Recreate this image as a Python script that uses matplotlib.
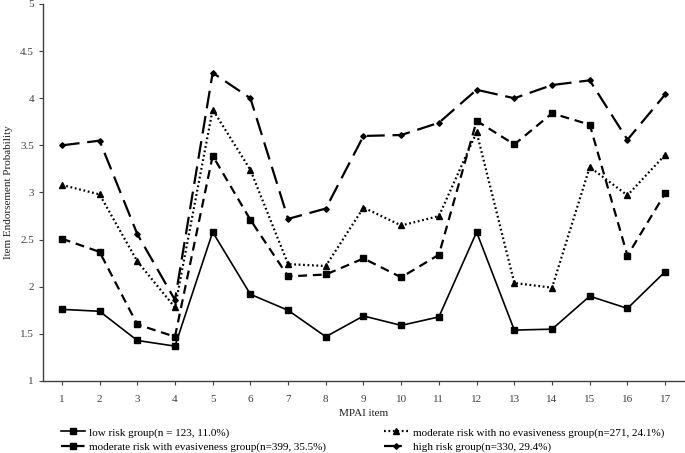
import numpy as np
import matplotlib.pyplot as plt

plt.rcParams['font.family'] = ['Liberation Serif', 'DejaVu Serif']

items = np.arange(1, 18)

# mean endorsement per MPAI item
low_risk = [1.76, 1.74, 1.43, 1.37, 2.58, 1.92, 1.75, 1.47, 1.69, 1.59,
            1.68, 2.58, 1.54, 1.55, 1.90, 1.77, 2.16]
mod_evasive = [2.51, 2.37, 1.60, 1.47, 3.39, 2.71, 2.11, 2.13, 2.30, 2.10,
               2.34, 3.76, 3.51, 3.84, 3.72, 2.33, 2.99]
mod_no_evasive = [3.08, 2.98, 2.27, 1.78, 3.88, 3.24, 2.24, 2.22, 2.84, 2.65,
                  2.75, 3.64, 2.04, 1.99, 3.27, 2.97, 3.40]
high_risk = [3.50, 3.55, 2.56, 1.86, 4.27, 4.00, 2.72, 2.83, 3.60, 3.61,
             3.74, 4.09, 4.00, 4.14, 4.19, 3.56, 4.04]

labels = ['low risk group(n = 123, 11.0%)',
          'moderate risk with no evasiveness group(n=271, 24.1%)',
          'moderate risk with evasiveness group(n=399, 35.5%)',
          'high risk group(n=330, 29.4%)']

fig = plt.figure(figsize=(6.85, 4.53), dpi=100)
ax = fig.add_axes([43/685, 72/453, 641/685, 377/453])

l1, = ax.plot(items, low_risk, '-', color='black', lw=1.2,
              marker='s', markersize=4.5, label=labels[0])
l2, = ax.plot(items, mod_no_evasive, color='black', lw=1.6, linestyle=(0, (0.8, 1.2)),
              marker='^', markersize=4, label=labels[1])
l3, = ax.plot(items, mod_evasive, color='black', lw=1.6, linestyle=(0, (4, 2.6)),
              marker='s', markersize=4.5, label=labels[2])
l4, = ax.plot(items, high_risk, color='black', lw=1.6, linestyle=(0, (8, 3.5)),
              marker='D', markersize=2.8, label=labels[3])

ax.set_xlim(0.5, 17.5)
ax.set_ylim(1, 5)
ax.set_xticks(items)
ax.set_yticks(np.arange(1, 5.01, 0.5))
ax.set_yticklabels(['1', '1.5', '2', '2.5', '3', '3.5', '4', '4.5', '5'])
ax.tick_params(direction='out', length=3, width=0.8, labelsize=8, colors='#404040')
ax.tick_params(axis='x', pad=7)
ax.spines['top'].set_visible(False)
ax.spines['right'].set_visible(False)
for s in ['left', 'bottom']:
    ax.spines[s].set_color('#404040')
    ax.spines[s].set_linewidth(1.0)

ax.set_xlabel('MPAI item', fontsize=8, color='#202020', labelpad=4)
ax.set_ylabel('Item Endorsement Probability', fontsize=8, color='#202020', labelpad=5)

fig.legend(handles=[l1, l3, l2, l4], loc='upper left', bbox_to_anchor=(55/685, 1 - 422/453),
           ncol=2, frameon=False, fontsize=8, handlelength=2.2, handletextpad=0.4,
           columnspacing=5.2, labelspacing=0.4, borderpad=0)

fig.savefig('out.png', dpi=100)
